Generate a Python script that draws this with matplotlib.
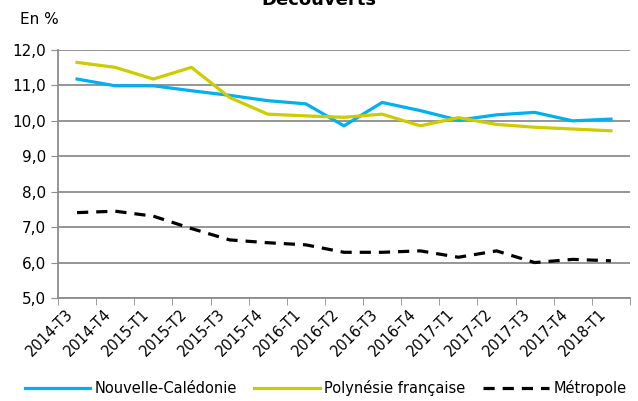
import numpy as np
import matplotlib
matplotlib.use("Agg")
import matplotlib.pyplot as plt
import matplotlib.transforms as mtransforms
from matplotlib.ticker import FuncFormatter

# quarters on the x axis
periods = ["2014-T3", "2014-T4", "2015-T1", "2015-T2", "2015-T3", "2015-T4",
           "2016-T1", "2016-T2", "2016-T3", "2016-T4", "2017-T1", "2017-T2",
           "2017-T3", "2017-T4", "2018-T1"]

# values (en %)
nc = [11.18, 10.99, 10.99, 10.85, 10.72, 10.57, 10.48, 9.86, 10.52, 10.29,
      10.02, 10.17, 10.24, 10.0, 10.05]
pf = [11.65, 11.51, 11.18, 11.51, 10.66, 10.19, 10.14, 10.1, 10.19, 9.86,
      10.09, 9.9, 9.82, 9.77, 9.72]
metro = [7.41, 7.45, 7.31, 6.96, 6.64, 6.56, 6.5, 6.29, 6.29, 6.33,
         6.15, 6.33, 6.0, 6.09, 6.05]

plt.rcParams['font.family'] = ['DejaVu Sans']

fig = plt.figure(figsize=(6.38, 4.01), dpi=100)
ax = fig.add_axes([58/638, 1 - 298/401, (630-58)/638, (298-50)/401])

x = np.arange(len(periods))
ax.plot(x, nc, color='#00B0F0', lw=2.3, label='Nouvelle-Calédonie', zorder=3)
ax.plot(x, pf, color='#CCCC00', lw=2.3, label='Polynésie française', zorder=3)
ax.plot(x, metro, color='black', lw=2.3, ls=(0, (3.5, 2.5)), label='Métropole', zorder=3)

ax.set_xlim(-0.5, len(periods) - 0.5)
ax.set_ylim(5, 12)
ax.set_yticks(np.arange(5, 12.1, 1))
ax.yaxis.set_major_formatter(FuncFormatter(lambda v, p: f"{v:.1f}".replace('.', ',')))
ax.yaxis.grid(True, color='#8c8c8c', lw=1.3)
ax.set_axisbelow(True)

ax.set_xticks(x)
ax.set_xticklabels(periods, rotation=45, ha='right', rotation_mode='anchor')
ax.set_xticks(np.arange(-0.5, len(periods)), minor=True)
ax.tick_params(axis='x', which='major', length=0, pad=6, labelsize=10.5)
ax.tick_params(axis='x', which='minor', length=5, color='#8c8c8c')
ax.tick_params(axis='y', length=5, color='#8c8c8c', labelsize=11)

# shift rotated labels a bit to the left, like the original
shift = mtransforms.ScaledTranslation(-0.12, 0, fig.dpi_scale_trans)
for lbl in ax.get_xticklabels():
    lbl.set_transform(lbl.get_transform() + shift)

for s in ['top', 'right']:
    ax.spines[s].set_visible(False)
ax.spines['left'].set_color('#8c8c8c')
ax.spines['bottom'].set_color('#8c8c8c')
ax.spines['left'].set_linewidth(1.3)
ax.spines['bottom'].set_linewidth(1.3)

fig.text(0.5, 1.0, "Découverts", ha='center', va='center', fontsize=13, fontweight='bold')
fig.text(20/638, 1 - 20/401, "En %", ha='left', va='center', fontsize=11)

fig.legend(loc='lower center', bbox_to_anchor=(0.51, -0.02), ncol=3, frameon=False,
           fontsize=10.5, handlelength=4.5, columnspacing=1.2, handletextpad=0.3)

fig.savefig("out.png", dpi=100)
